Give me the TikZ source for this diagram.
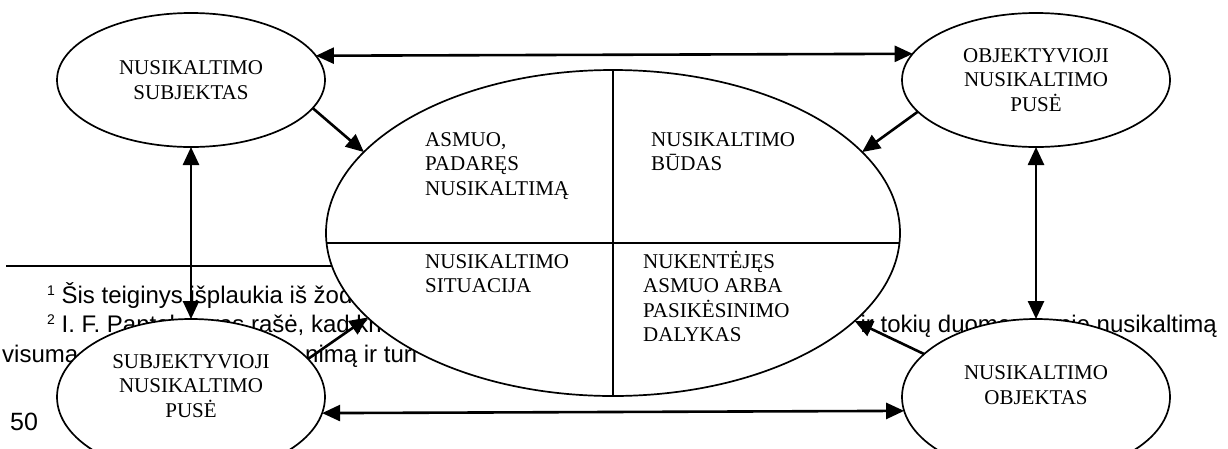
\documentclass[tikz,border=0pt]{standalone}
\usepackage{fontspec}
\setmainfont{Liberation Serif}
\newfontfamily\arialfont{Liberation Sans}
\usetikzlibrary{arrows.meta,shapes.geometric}
\newcommand\diagfont{\fontsize{21}{24.5}\selectfont}
\newcommand\footfont{\arialfont\fontsize{24}{29}\selectfont}
\newcommand\fnsup[1]{\raisebox{8pt}{\fontsize{14}{14}\selectfont #1}}
\newcommand\qlines[1]{\begin{tabular}[t]{@{}l@{}}#1\end{tabular}}
\begin{document}
\begin{tikzpicture}[x=1pt,y=-1pt,
  ell/.style={draw, ellipse, fill=white, line width=1.7pt, inner sep=0pt, outer sep=0pt,
    minimum width=268pt, align=center, font=\diagfont},
  ctxt/.style={inner sep=0pt, align=center, font=\diagfont},
  qtxt/.style={inner sep=0pt, anchor=base west, font=\diagfont},
  foot/.style={inner sep=0pt, font=\footfont},
  tipk/.tip={Triangle[length=18pt,width=16pt]},
  arr/.style={line width=2.6pt, -tipk},
  darr/.style={line width=2.6pt, tipk-tipk},
  divl/.style={line width=1.9pt}]
\useasboundingbox (0,0) rectangle (1228,448);
\clip (0,0) rectangle (1228,448);
\fill[white] (0,0) rectangle (1228,448);
% footnote area (partly covered by the ellipses)
\draw[line width=1.6pt] (6,266) -- (420,266);
\node[foot, anchor=base west] (f1) at (47,303) {\fnsup{1} Šis teiginys išplaukia iš žodžių};
\node[foot, anchor=base west] (f2) at (47,332) {\fnsup{2} I. F. Pantelejevas rašė, kad kriminalistinė};
\node[foot, anchor=base east] (f2b) at (1217,332) {ir tokių duomenų apie nusikaltimą};
\node[foot, anchor=base west] (f3) at (2,362) {visumą};
\node[foot, anchor=base west] (f3b) at (305,362) {nimą ir turi};
\node[inner sep=0pt, anchor=base west, font=\arialfont\fontsize{25}{29}\selectfont] (pg) at (10,430) {50};
% ellipses
\node[ell, minimum height=134pt] (tl) at (191,80) {NUSIKALTIMO\\SUBJEKTAS};
\node[ell, minimum height=134pt] (tr) at (1036,80) {OBJEKTYVIOJI\\NUSIKALTIMO\\PUSĖ};
\node[ell, minimum height=156pt] (bl) at (191,397) {};
\node[ell, minimum height=156pt] (br) at (1036,397) {};
\node[ctxt] (bltxt) at (191,386) {SUBJEKTYVIOJI\\NUSIKALTIMO\\PUSĖ};
\node[ctxt] (brtxt) at (1036,385) {NUSIKALTIMO\\OBJEKTAS};
\node[ell, minimum width=574pt, minimum height=326pt] (c) at (613,233) {};
\coordinate (cw) at ([yshift=-10pt]c.west);
\coordinate (ce) at ([yshift=-10pt]c.east);
\draw[divl] (c.north) -- (c.south);
\draw[divl] (cw) -- (ce);
\node[qtxt] (q1) at (425,146) {\qlines{ASMUO,\\PADARĘS\\NUSIKALTIMĄ}};
\node[qtxt] (q2) at (651,146) {\qlines{NUSIKALTIMO\\BŪDAS}};
\node[qtxt] (q3) at (425,268) {\qlines{NUSIKALTIMO\\SITUACIJA}};
\node[qtxt] (q4) at (643,268) {\qlines{NUKENTĖJĘS\\ASMUO ARBA\\PASIKĖSINIMO\\DALYKAS}};
% connectors
\draw[darr] (tl.11.4) -- (tr.168.6);
\draw[darr] (bl.353.5) -- (br.186.5);
\draw[darr] (tl.south) -- (bl.north);
\draw[darr] (tr.south) -- (br.north);
\draw[arr] (tl.347.7) -- (c.162.1);
\draw[arr] (tr.195.2) -- (c.18.85);
\draw[arr] (bl.18.6) -- (c.199.2);
\draw[arr] (br.159.7) -- (c.340.95);
\end{tikzpicture}
\end{document}
